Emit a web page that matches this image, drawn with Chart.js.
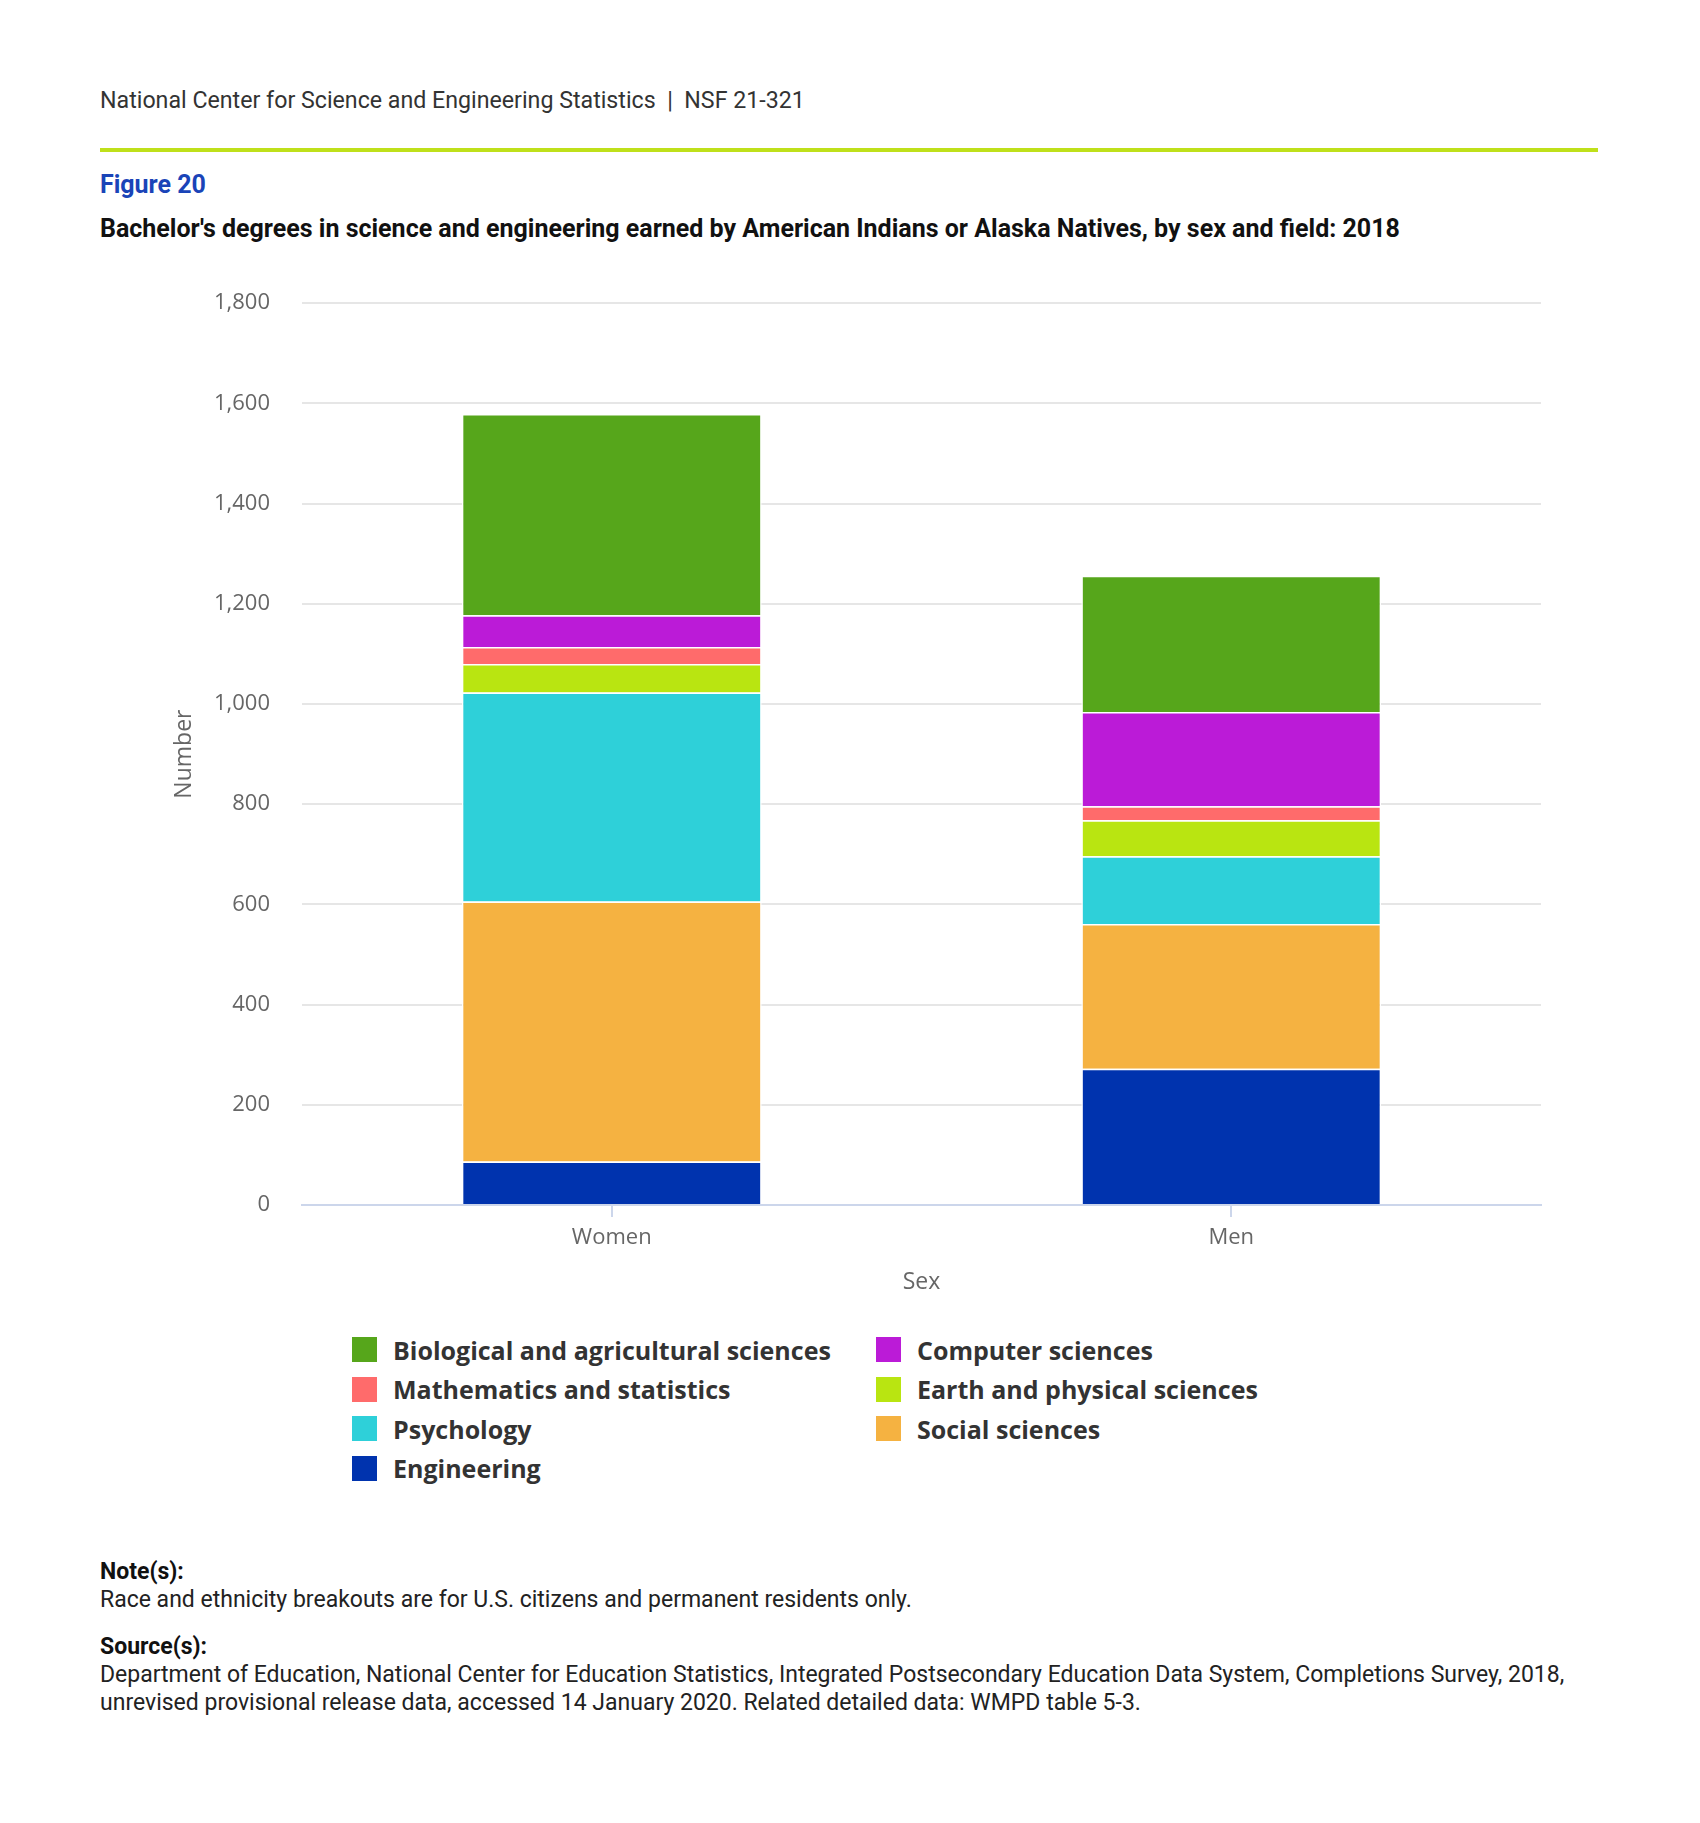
<!DOCTYPE html>
<html lang="en">
<head>
  <meta charset="UTF-8" />
  <title>NSF 21-321 Figure 20</title>
  <script src="https://cdn.jsdelivr.net/npm/chart.js"></script>
  <style>
    body {
      margin: 0;
      width: 1700px;
      height: 1823px;
      background: #fff;
      position: relative;
      font-family: Roboto, sans-serif;
    }
    .abs { position: absolute; }
    #header { left: 100px; top: 86px; font-size: 23.2px; color: #333; white-space: pre; }
    #rule { left: 100px; top: 148px; width: 1498px; height: 4px; background: #bfe01a; }
    #fig { left: 100px; top: 170px; font-size: 25px; font-weight: bold; color: #1a44b8; }
    #title { left: 100px; top: 214px; font-size: 25px; font-weight: bold; color: #111; }
    #chartBox { left: 140px; top: 258px; width: 1460px; height: 1042px; }
    #legend {
      left: 352px; top: 1334px;
      display: grid;
      grid-template-columns: 524px 420px;
      row-gap: 8.5px;
      font-family: "Open Sans", sans-serif;
      font-weight: bold;
      font-size: 25px;
      color: #333;
    }
    .item { display: flex; align-items: center; height: 31px; white-space: nowrap; }
    .item span.box { width: 25px; height: 25px; margin-right: 16px; display: inline-block; }
    .notes { left: 100px; font-size: 23px; color: #222; line-height: 28px; }
    .notes b { color: #111; }
  </style>
</head>
<body>

  <div id="header" class="abs">National Center for Science and Engineering Statistics  |  NSF 21-321</div>
  <div id="rule" class="abs"></div>
  <div id="fig" class="abs">Figure 20</div>
  <div id="title" class="abs">Bachelor's degrees in science and engineering earned by American Indians or Alaska Natives, by sex and field: 2018</div>

  <div id="chartBox" class="abs"><canvas id="chart"></canvas></div>

  <div id="legend" class="abs"></div>

  <div class="abs notes" style="top:1558px;">
    <b>Note(s):</b><br>
    Race and ethnicity breakouts are for U.S. citizens and permanent residents only.
  </div>
  <div class="abs notes" style="top:1633px;">
    <b>Source(s):</b><br>
    Department of Education, National Center for Education Statistics, Integrated Postsecondary Education Data System, Completions Survey, 2018,<br>
    unrevised provisional release data, accessed 14 January 2020. Related detailed data: WMPD table 5-3.
  </div>

<script>
  // categories and values
  const sexes = ["Women", "Men"];
  const fields = [
    "Biological and agricultural sciences",
    "Computer sciences",
    "Mathematics and statistics",
    "Earth and physical sciences",
    "Psychology",
    "Social sciences",
    "Engineering"
  ];
  const biological  = [402, 272];
  const computer    = [63, 188];
  const mathematics = [34, 28];
  const earth       = [57, 72];
  const psychology  = [417, 135];
  const social      = [519, 289];
  const engineering = [87, 272];
  const yTicks = [0, 200, 400, 600, 800, 1000, 1200, 1400, 1600, 1800];

  const colors = ["#56a61b", "#bb1bd7", "#ff6b6b", "#b9e511", "#2ed0d9", "#f5b241", "#0033ae"];
  const values = [biological, computer, mathematics, earth, psychology, social, engineering];

  // stack from the bottom: engineering first
  const datasets = fields.map((f, i) => ({
    label: f,
    data: values[i],
    backgroundColor: colors[i],
    borderColor: "#ffffff",
    borderWidth: 1.5
  })).reverse();

  // legend, two columns, in field order
  const legend = document.getElementById("legend");
  fields.forEach((f, i) => {
    const d = document.createElement("div");
    d.className = "item";
    d.innerHTML = '<span class="box" style="background:' + colors[i] + '"></span>' + f;
    legend.appendChild(d);
  });

  const tickFont = { family: "'Open Sans', sans-serif", size: 22 };

  new Chart(document.getElementById("chart"), {
    type: "bar",
    data: { labels: sexes, datasets: datasets },
    options: {
      responsive: true,
      maintainAspectRatio: false,
      animation: false,
      layout: { padding: { top: 2, right: 59, bottom: 0, left: 0 } },
      plugins: {
        legend: { display: false },
        tooltip: { enabled: false }
      },
      datasets: {
        bar: { categoryPercentage: 0.484, barPercentage: 1.0 }
      },
      scales: {
        x: {
          stacked: true,
          afterFit: s => { s.height = 95; },
          grid: {
            offset: false,
            drawOnChartArea: false,
            color: "#ccd6eb",
            tickColor: "#ccd6eb",
            tickLength: 12,
            lineWidth: 2
          },
          border: { color: "#ccd6eb", width: 2 },
          ticks: { color: "#666", font: tickFont, padding: 8 },
          title: {
            display: true,
            text: "Sex",
            color: "#666",
            font: { family: "'Open Sans', sans-serif", size: 23 },
            padding: { top: 0, bottom: 4 }
          }
        },
        y: {
          stacked: true,
          min: 0,
          max: 1800,
          afterFit: s => { s.width = 162; },
          afterBuildTicks: s => { s.ticks = yTicks.map(v => ({ value: v })); },
          grid: { color: "#e6e6e6", lineWidth: 2, drawTicks: false },
          border: { display: false },
          ticks: {
            color: "#666",
            font: tickFont,
            padding: 32,
            callback: v => v.toLocaleString("en-US")
          },
          title: {
            display: true,
            text: "Number",
            color: "#666",
            font: { family: "'Open Sans', sans-serif", size: 23 },
            padding: { top: 31, bottom: 0 }
          }
        }
      }
    }
  });
</script>

</body>
</html>
